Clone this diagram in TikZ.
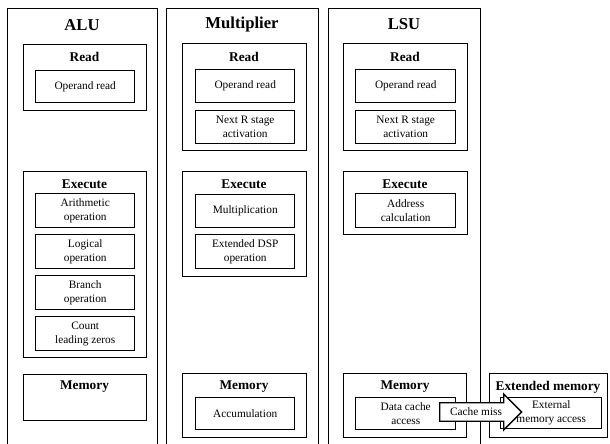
\documentclass[tikz,border=0pt]{standalone}
\usepackage{fontspec}
\setmainfont{Liberation Serif}
\usetikzlibrary{shapes.arrows}

\tikzset{every picture/.style={line width=0.75pt}}
\tikzset{
  sz/.style 2 args={minimum width=0.75*#1, minimum height=0.75*#2},
  unitbox/.style={draw, line width=0.8pt, anchor=north west, inner sep=0pt},
  stagebox/.style={draw, line width=1pt, anchor=north west, inner sep=0pt},
  itembox/.style={draw, line width=1.1pt, anchor=north west, inner sep=0pt, align=center, font=\fontsize{8.5}{10.5}\selectfont},
  unittitle/.style={inner sep=0pt, font=\bfseries\fontsize{12.5}{14}\selectfont},
  stagetitle/.style={inner sep=0pt, font=\bfseries\fontsize{10}{12}\selectfont},
  missarrow/.style={shape=single arrow, draw, fill=white, line width=1pt, single arrow head extend=6.5pt, minimum height=61.5pt, inner xsep=2pt, inner ysep=3.5pt, font=\fontsize{8.5}{10.5}\selectfont}
}

\begin{document}
\begin{tikzpicture}[x=0.75pt,y=0.75pt,yscale=-1,xscale=1]
\useasboundingbox (0,0) rectangle (610,443);

%Units
\node[unitbox, sz={150}{445}] (alu) at (7,8) {};
\node[unitbox, sz={152}{445}] (mul) at (166,8) {};
\node[unitbox, sz={152}{445}] (lsu) at (328,8) {};
\node[unittitle] (aluT) at (82,25) {ALU};
\node[unittitle] (mulT) at (242,24) {Multiplier};
\node[unittitle] (lsuT) at (404,24) {LSU};

%ALU
\node[stagebox, sz={123}{66}] (aluRead) at (23,44) {};
\node[stagetitle] (aluReadT) at (84.5,57) {Read};
\node[itembox, sz={99}{32}] (aluOpRead) at (35,70) {Operand read};
\node[stagebox, sz={123}{186}] (aluExec) at (23,171) {};
\node[stagetitle] (aluExecT) at (84.5,184) {Execute};
\node[itembox, sz={99}{34}] (aluArith) at (35,193) {Arithmetic\\operation};
\node[itembox, sz={99}{34}] (aluLogic) at (35,234) {Logical\\operation};
\node[itembox, sz={99}{34}] (aluBranch) at (35,275) {Branch\\operation};
\node[itembox, sz={99}{34}] (aluClz) at (35,316) {Count\\leading zeros};
\node[stagebox, sz={123}{46}] (aluMem) at (23,374) {};
\node[stagetitle] (aluMemT) at (84.5,387) {Memory};

%Multiplier
\node[stagebox, sz={124}{107}] (mulRead) at (182,43) {};
\node[stagetitle] (mulReadT) at (244,57) {Read};
\node[itembox, sz={99}{33}] (mulOpRead) at (195,69) {Operand read};
\node[itembox, sz={99}{33}] (mulNext) at (195,110) {Next R stage\\activation};
\node[stagebox, sz={124}{105}] (mulExec) at (182,171) {};
\node[stagetitle] (mulExecT) at (244,184) {Execute};
\node[itembox, sz={99}{33}] (mulMult) at (195,194) {Multiplication};
\node[itembox, sz={99}{34}] (mulDsp) at (195,234) {Extended DSP\\operation};
\node[stagebox, sz={124}{64}] (mulMem) at (182,373) {};
\node[stagetitle] (mulMemT) at (244,387) {Memory};
\node[itembox, sz={99}{32}] (mulAcc) at (195,397) {Accumulation};

%LSU
\node[stagebox, sz={124}{107}] (lsuRead) at (343,43) {};
\node[stagetitle] (lsuReadT) at (405,57) {Read};
\node[itembox, sz={100}{33}] (lsuOpRead) at (355,69) {Operand read};
\node[itembox, sz={100}{33}] (lsuNext) at (355,110) {Next R stage\\activation};
\node[stagebox, sz={124}{63}] (lsuExec) at (343,171) {};
\node[stagetitle] (lsuExecT) at (405,184) {Execute};
\node[itembox, sz={100}{34}] (lsuAddr) at (355,193) {Address\\calculation};
\node[stagebox, sz={123}{64}] (lsuMem) at (343,373) {};
\node[stagetitle] (lsuMemT) at (405,387) {Memory};
\node[itembox, sz={100}{32}] (lsuCache) at (355,397) {Data cache\\access};

%Extended memory
\node[stagebox, sz={118}{64}] (extMem) at (489,373) {};
\node[stagetitle] (extMemT) at (548,387) {Extended memory};
\node[itembox, sz={101}{31}] (extAccess) at (500,397) {External\\memory access};

%Cache miss
\node[missarrow, anchor=tail] (miss) at (439,412) {Cache miss};

\end{tikzpicture}
\end{document}
